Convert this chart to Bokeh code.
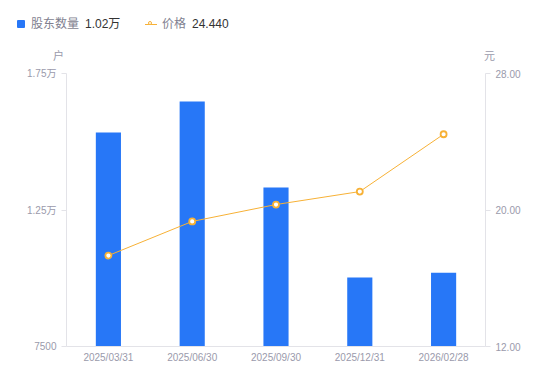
from bokeh.plotting import figure
from bokeh.models import Range1d, LinearAxis, FixedTicker, ColumnDataSource, Div
from bokeh.layouts import column
from bokeh.embed import file_html
from bokeh.resources import INLINE

dates = ["2025/03/31", "2025/06/30", "2025/09/30", "2025/12/31", "2026/02/28"]
holders = [15340, 16470, 13320, 10030, 10200]
prices = [17.33, 19.33, 20.32, 21.08, 24.44]

left_ticks = [7500, 12500, 17500]
left_labels = ["7500", "1.25万", "1.75万"]
right_ticks = [12, 20, 28]
right_labels = ["12.00", "20.00", "28.00"]

legend_names = ["股东数量", "价格"]
legend_values = ["1.02万", "24.440"]
axis_titles = ["户", "元"]

BLUE = "#2777f7"
ORANGE = "#f7b136"
AXIS = "#e3e3e8"
LABEL = "#9a9aab"
NAME = "#7f7f90"
DARK = "#333333"
FONT = "Liberation Sans, Noto Sans CJK SC"
CSSFONT = "'Liberation Sans', 'Noto Sans CJK SC', sans-serif"

W = 542
TOP_H = 65

# ---------- header: legend and axis titles ----------
def span(left, top, text, color, size):
    return (f'<span style="position:absolute;left:{left}px;top:{top}px;'
            f'font-size:{size}px;line-height:{size}px;color:{color};white-space:nowrap;">'
            f'{text}</span>')

html = (
    f'<div style="position:relative;width:{W}px;height:{TOP_H}px;font-family:{CSSFONT};">'
    f'<span style="position:absolute;left:17px;top:20px;width:8px;height:8px;'
    f'background:{BLUE};border-radius:1px;"></span>'
    + span(31, 18, legend_names[0], NAME, 12)
    + span(85, 18, legend_values[0], DARK, 12)
    + f'<span style="position:absolute;left:145px;top:23.5px;width:12px;height:0;'
      f'border-top:1px solid {ORANGE};"></span>'
    + f'<span style="position:absolute;left:147.5px;top:20.5px;width:4px;height:4px;'
      f'border:1.8px solid {ORANGE};border-radius:50%;background:white;"></span>'
    + span(162, 18, legend_names[1], NAME, 12)
    + span(192, 18, legend_values[1], DARK, 12)
    + span(53, 51, axis_titles[0], LABEL, 11)
    + span(484, 51, axis_titles[1], LABEL, 11)
    + '</div>'
)
hdr = Div(text=html, width=W, height=TOP_H, margin=(0, 0, 0, 0))

# ---------- main chart ----------
src = ColumnDataSource(dict(d=dates, h=holders, p=prices))

p = figure(x_range=dates, y_range=Range1d(7500, 17500), width=W, height=373 - TOP_H,
           output_backend="svg", toolbar_location=None,
           min_border_left=66, min_border_right=57, min_border_top=73 - TOP_H,
           min_border_bottom=27, margin=(0, 0, 0, 0))
p.outline_line_color = None
p.xgrid.grid_line_color = None
p.ygrid.grid_line_color = None
p.extra_y_ranges = {"price": Range1d(12, 28)}

p.vbar(x="d", top="h", bottom=7500, width=0.3, source=src, fill_color=BLUE, line_color=None)
p.line(x="d", y="p", source=src, y_range_name="price", line_color=ORANGE, line_width=1)
p.scatter(x="d", y="p", source=src, y_range_name="price", size=6, marker="circle",
          fill_color="white", line_color=ORANGE, line_width=1.8)

def style(ax):
    ax.axis_line_color = AXIS
    ax.major_tick_line_color = AXIS
    ax.minor_tick_line_color = None
    ax.major_label_text_color = LABEL
    ax.major_label_text_font = FONT
    ax.major_label_text_font_size = "10px"

ya = p.yaxis[0]
style(ya)
ya.ticker = FixedTicker(ticks=left_ticks)
ya.major_label_overrides = {t: l for t, l in zip(left_ticks, left_labels)}
ya.major_tick_in = 0
ya.major_tick_out = 5

ra = LinearAxis(y_range_name="price", ticker=FixedTicker(ticks=right_ticks))
style(ra)
ra.major_label_overrides = {t: l for t, l in zip(right_ticks, right_labels)}
ra.major_tick_in = 0
ra.major_tick_out = 5
p.add_layout(ra, "right")

xa = p.xaxis[0]
style(xa)
xa.major_tick_line_color = None
xa.major_tick_in = 0
xa.major_tick_out = 0
xa.major_label_standoff = 5

layout = column(hdr, p, spacing=0)
open("out.html", "w").write(file_html(layout, INLINE))
